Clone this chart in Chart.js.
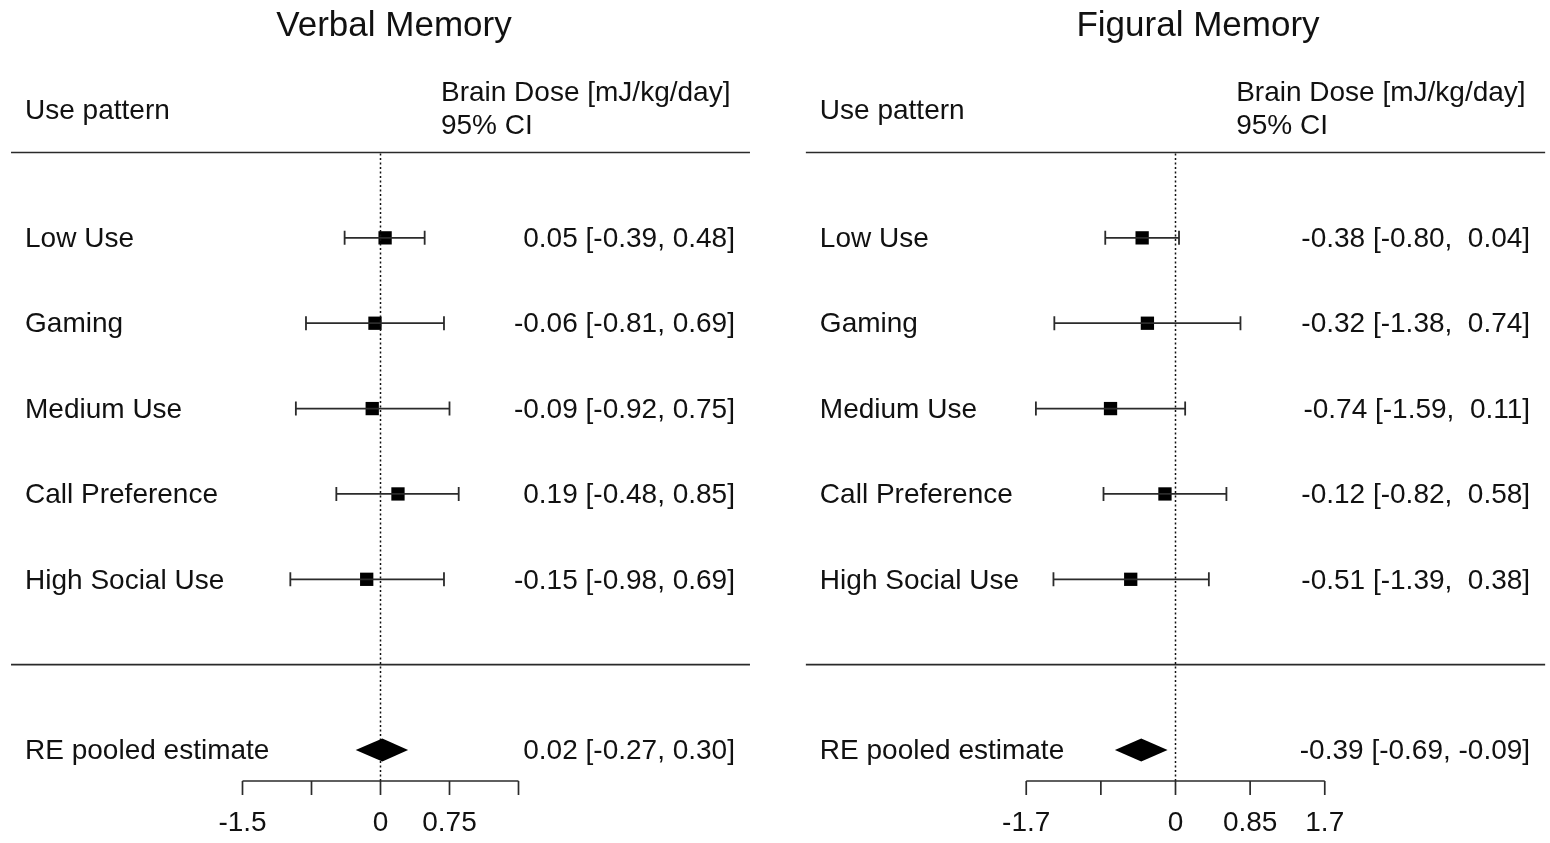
<!DOCTYPE html>
<html>
<head>
<meta charset="utf-8">
<script src="https://cdn.jsdelivr.net/npm/chart.js@4.4.1/dist/chart.umd.min.js"></script>
<style>
  html, body { margin: 0; padding: 0; background: #ffffff; overflow: hidden; }
  #wrap { position: relative; width: 1550px; height: 843px; background: #ffffff; }
  .panel { position: absolute; top: 0; width: 775px; height: 843px; }
  #p1 { left: 0; }
  #p2 { left: 775px; }
</style>
</head>
<body>
<div id="wrap">
  <div class="panel" id="p1"><canvas id="c1" width="775" height="843"></canvas></div>
  <div class="panel" id="p2"><canvas id="c2" width="775" height="843"></canvas></div>
</div>
<script>
// ---------- DATA ----------
const usePatterns = ["Low Use", "Gaming", "Medium Use", "Call Preference", "High Social Use"];
const pooledLabel = "RE pooled estimate";

const verbalTitle = "Verbal Memory";
const verbalEst   = [0.05, -0.06, -0.09, 0.19, -0.15];
const verbalLower = [-0.39, -0.81, -0.92, -0.48, -0.98];
const verbalUpper = [0.48, 0.69, 0.75, 0.85, 0.69];
const verbalPooled = [0.02, -0.27, 0.30];        // estimate, lower, upper
const verbalTicks = [-1.5, -0.75, 0, 0.75, 1.5];
const verbalTickLabels = ["-1.5", "", "0", "0.75", ""];

const figuralTitle = "Figural Memory";
const figuralEst   = [-0.38, -0.32, -0.74, -0.12, -0.51];
const figuralLower = [-0.80, -1.38, -1.59, -0.82, -1.39];
const figuralUpper = [0.04, 0.74, 0.11, 0.58, 0.38];
const figuralPooled = [-0.39, -0.69, -0.09];
const figuralTicks = [-1.7, -0.85, 0, 0.85, 1.7];
const figuralTickLabels = ["-1.7", "", "0", "0.85", "1.7"];

const headerLeft = "Use pattern";
const headerRight1 = "Brain Dose [mJ/kg/day]";
const headerRight2 = "95% CI";

// ---------- HELPERS ----------
const FONT = "'Liberation Sans', Arial, sans-serif";

function fmtCI(est, lo, hi, padLo, padHi) {
  const f = v => v.toFixed(2);
  const p = (v, need) => (need && v >= 0 ? " " : "") + f(v);
  return f(est) + " [" + p(lo, padLo) + ", " + p(hi, padHi) + "]";
}

function buildPanel(canvasId, cfg) {
  const n = cfg.est.length;
  const padLo = cfg.lower.concat([cfg.pooled[1]]).some(v => v < 0);
  const padHi = cfg.upper.concat([cfg.pooled[2]]).some(v => v < 0);
  const rows = cfg.est.map((e, i) => i + 1);
  const pooledRow = n + 2;
  const sepRow = n + 1;

  const forestPlugin = {
    id: 'forest_' + canvasId,
    afterDatasetsDraw(chart) {
      const ctx = chart.ctx;
      const xs = chart.scales.x, ys = chart.scales.y;
      const X = v => xs.getPixelForValue(v);
      const Y = v => ys.getPixelForValue(v);
      const left = X(-cfg.xlim), right = X(cfg.xlim);
      const ty = 1.5; // text vertical nudge
      ctx.save();

      // horizontal separators
      ctx.lineWidth = 1.6;
      ctx.strokeStyle = '#2a2a2a';
      [0, sepRow].forEach(r => {
        ctx.beginPath();
        ctx.moveTo(left, Y(r));
        ctx.lineTo(right, Y(r));
        ctx.stroke();
      });

      // reference line at 0
      const axisY = Y(pooledRow) + 31;
      ctx.lineWidth = 1.5;
      ctx.strokeStyle = '#111';
      ctx.setLineDash([2, 2.5]);
      ctx.beginPath();
      ctx.moveTo(X(0), Y(0) + 1);
      ctx.lineTo(X(0), axisY);
      ctx.stroke();
      ctx.setLineDash([]);

      // CI whiskers
      ctx.lineWidth = 1.8;
      ctx.strokeStyle = '#2b2b2b';
      rows.forEach((r, i) => {
        const y = Y(r), x1 = X(cfg.lower[i]), x2 = X(cfg.upper[i]);
        ctx.beginPath();
        ctx.moveTo(x1, y); ctx.lineTo(x2, y);
        ctx.moveTo(x1, y - 7); ctx.lineTo(x1, y + 7);
        ctx.moveTo(x2, y - 7); ctx.lineTo(x2, y + 7);
        ctx.stroke();
      });

      // pooled diamond
      const py = Y(pooledRow);
      ctx.fillStyle = '#000';
      ctx.beginPath();
      ctx.moveTo(X(cfg.pooled[1]), py);
      ctx.lineTo(X(cfg.pooled[0]), py - 11.5);
      ctx.lineTo(X(cfg.pooled[2]), py);
      ctx.lineTo(X(cfg.pooled[0]), py + 11.5);
      ctx.closePath();
      ctx.fill();

      // bottom axis
      ctx.lineWidth = 1.7;
      ctx.strokeStyle = '#2b2b2b';
      const t0 = X(cfg.ticks[0]), t1 = X(cfg.ticks[cfg.ticks.length - 1]);
      ctx.beginPath();
      ctx.moveTo(t0, axisY); ctx.lineTo(t1, axisY);
      cfg.ticks.forEach(t => {
        ctx.moveTo(X(t), axisY); ctx.lineTo(X(t), axisY + 14);
      });
      ctx.stroke();

      ctx.fillStyle = '#111';
      ctx.font = '28px ' + FONT;
      ctx.textAlign = 'center';
      ctx.textBaseline = 'middle';
      cfg.ticks.forEach((t, i) => {
        if (cfg.tickLabels[i]) ctx.fillText(cfg.tickLabels[i], X(t), axisY + 41 + ty);
      });

      // Title
      ctx.font = '35px ' + FONT;
      ctx.textAlign = 'center';
      ctx.fillText(cfg.title, (left + right) / 2 + cfg.titleShift, 25 + ty);

      // Headers
      ctx.font = '28px ' + FONT;
      ctx.textAlign = 'left';
      ctx.fillText(headerLeft, left + 14, Y(0) - 43 + ty);
      ctx.fillText(headerRight1, right - 309, Y(0) - 61 + ty);
      ctx.fillText(headerRight2, right - 309, Y(0) - 28 + ty);

      // row labels and values
      usePatterns.forEach((lab, i) => {
        ctx.textAlign = 'left';
        ctx.fillText(lab, left + 14, Y(rows[i]) + ty);
        ctx.textAlign = 'right';
        ctx.fillText(fmtCI(cfg.est[i], cfg.lower[i], cfg.upper[i], padLo, padHi), right - 15, Y(rows[i]) + ty);
      });
      ctx.textAlign = 'left';
      ctx.fillText(pooledLabel, left + 14, py + ty);
      ctx.textAlign = 'right';
      ctx.fillText(fmtCI(cfg.pooled[0], cfg.pooled[1], cfg.pooled[2], padLo, padHi), right - 15, py + ty);

      ctx.restore();
    }
  };

  return new Chart(document.getElementById(canvasId), {
    type: 'scatter',
    data: {
      datasets: [{
        data: cfg.est.map((e, i) => ({ x: e, y: rows[i] })),
        pointStyle: 'rect',
        pointRadius: 9.4,
        pointHoverRadius: 9.4,
        backgroundColor: '#000',
        borderColor: '#000',
        borderWidth: 0,
        clip: false
      }]
    },
    options: {
      responsive: false,
      animation: false,
      events: [],
      layout: { padding: 0, autoPadding: false },
      plugins: { legend: { display: false }, tooltip: { enabled: false }, title: { display: false } },
      scales: {
        x: { type: 'linear', min: cfg.xmin, max: cfg.xmax, display: false },
        y: { type: 'linear', min: cfg.ymin, max: cfg.ymax, reverse: true, display: false }
      }
    },
    plugins: [forestPlugin]
  });
}

// Panel canvases cover the full 775x843 area; scale ranges map the panel geometry.
// Verbal: zero at x=380.5, 92 px per unit. Figural: zero at x=401 (1176-775), 87.8 px per unit.
// Rows: row 0 (header rule) at y=152.5, 85.36 px per row.
const rowPx = 85.36, row0 = 152.5;
buildPanel('c1', {
  title: verbalTitle, est: verbalEst, lower: verbalLower, upper: verbalUpper,
  pooled: verbalPooled, ticks: verbalTicks, tickLabels: verbalTickLabels,
  xlim: 4.016, titleShift: 13.5,
  xmin: -380.5 / 92, xmax: (775 - 380.5) / 92,
  ymin: -row0 / rowPx, ymax: (843 - row0) / rowPx
});
buildPanel('c2', {
  title: figuralTitle, est: figuralEst, lower: figuralLower, upper: figuralUpper,
  pooled: figuralPooled, ticks: figuralTicks, tickLabels: figuralTickLabels,
  xlim: 4.21, titleShift: 22.5,
  xmin: -400.5 / 87.8, xmax: (775 - 400.5) / 87.8,
  ymin: -row0 / rowPx, ymax: (843 - row0) / rowPx
});
</script>
</body>
</html>
